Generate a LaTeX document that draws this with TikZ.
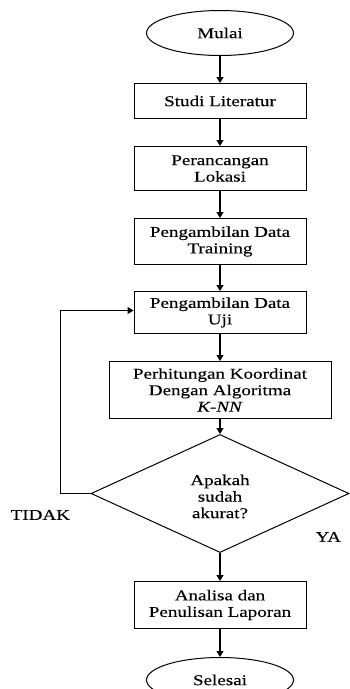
\documentclass[tikz,border=0pt]{standalone}
\usepackage{fontspec}
\setmainfont{Liberation Serif}[FakeStretch=1.27, FakeBold=0.2]
\usetikzlibrary{positioning,shapes.geometric,arrows.meta}

\begin{document}
\begin{tikzpicture}[x=1pt, y=1pt, node distance=27pt,
    every node/.style={font=\fontsize{15pt}{16.5pt}\selectfont, align=center},
    box/.style={draw, rectangle, minimum width=172pt, inner sep=2pt},
    term/.style={draw, ellipse, minimum width=147pt, minimum height=45pt},
    decide/.style={draw, diamond, minimum width=258pt, minimum height=118pt, inner sep=0pt},
    lbl/.style={inner sep=0pt},
    flow/.style={-{Triangle[length=6pt,width=7pt]}, line width=1.2pt},
    line width=1pt]
  \useasboundingbox (0,0) rectangle (349,-689);

  % Steps
  \node (Mulai) [term] at (220,-33) {Mulai};
  \node (Studi) [box, minimum height=35pt, below=of Mulai] {Studi Literatur};
  \node (Rancang) [box, minimum height=44pt, below=of Studi] {Perancangan\\Lokasi};
  \node (Training) [box, minimum height=46pt, below=of Rancang] {Pengambilan Data\\Training};
  \node (Uji) [box, minimum height=42pt, below=26pt of Training] {Pengambilan Data\\Uji};
  \node (Hitung) [box, minimum width=222pt, minimum height=57pt, below=of Uji] {Perhitungan Koordinat\\Dengan Algoritma\\\textit{K-NN}};
  \node (Akurat) [decide, below=15pt of Hitung] {\\Apakah\\sudah\\akurat?};
  \node (Analisa) [box, minimum height=47pt, below=28pt of Akurat] {Analisa dan\\Penulisan Laporan};
  \node (Selesai) [term, below=28pt of Analisa] {Selesai};

  % Labels
  \node (Tidak) [lbl, below left=16pt and 20pt of Akurat.west] {TIDAK};
  \node (Ya) [lbl, below left=38pt and 8pt of Akurat.east] {YA};

  % Connectors
  \draw[flow] (Mulai) -- (Studi);
  \draw[flow] (Studi) -- (Rancang);
  \draw[flow] (Rancang) -- (Training);
  \draw[flow] (Training) -- (Uji);
  \draw[flow] (Uji) -- (Hitung);
  \draw[flow] (Hitung) -- (Akurat);
  \draw[flow] (Akurat) -- (Analisa);
  \draw[flow] (Analisa) -- (Selesai);
  \draw[-{Triangle[length=6pt,width=7pt]}] (Akurat.west) -- ++(-30,0) |- ([yshift=2pt]Uji.west);
\end{tikzpicture}
\end{document}
